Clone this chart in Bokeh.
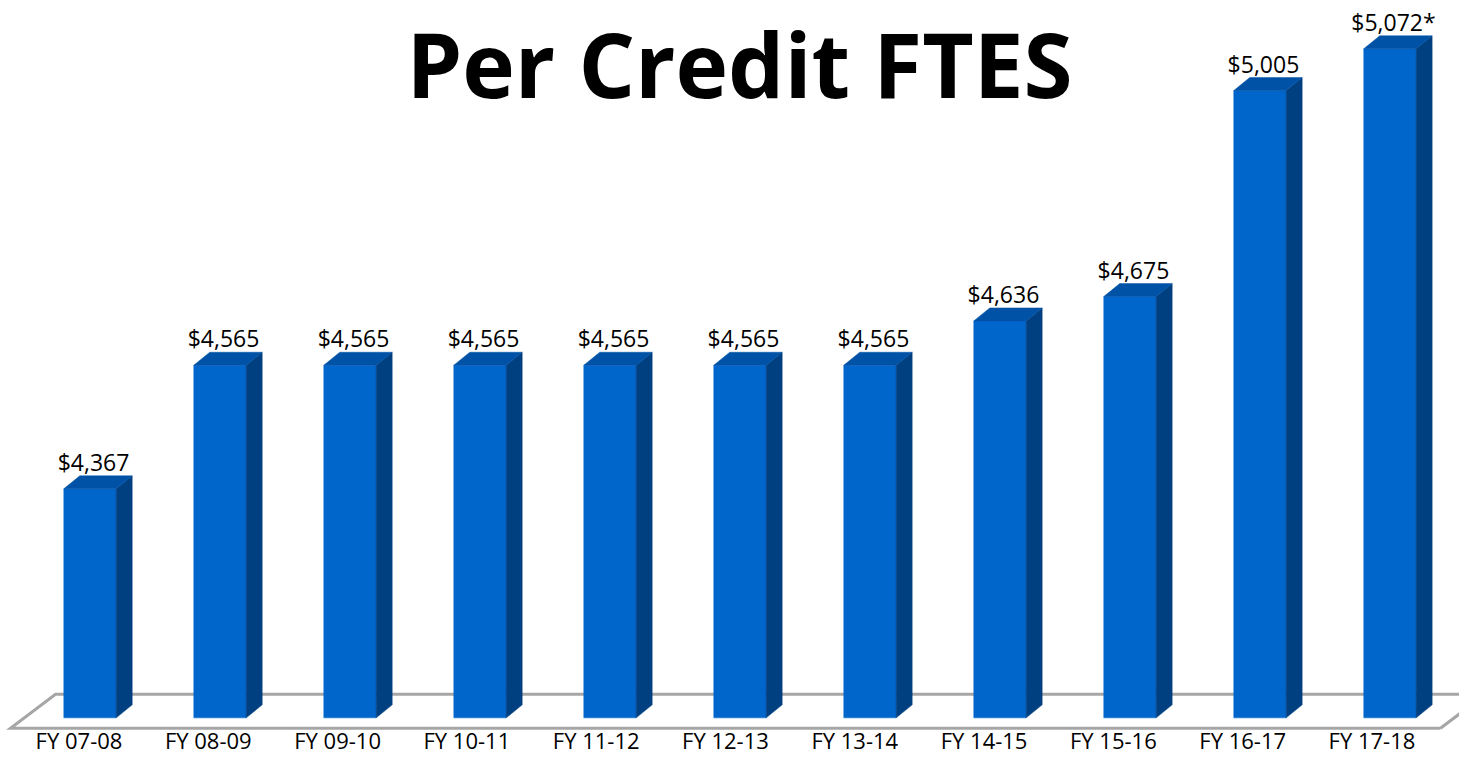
import numpy as np
from bokeh.plotting import figure
from bokeh.models import Range1d, Label, ColumnDataSource
from bokeh.core.properties import value
from bokeh.embed import file_html
from bokeh.resources import INLINE

# ---- data ----
categories = ["FY 07-08", "FY 08-09", "FY 09-10", "FY 10-11", "FY 11-12", "FY 12-13",
              "FY 13-14", "FY 14-15", "FY 15-16", "FY 16-17", "FY 17-18"]
amounts = [4367, 4565, 4565, 4565, 4565, 4565, 4565, 4636, 4675, 5005, 5072]
amount_labels = ["$4,367", "$4,565", "$4,565", "$4,565", "$4,565", "$4,565",
                 "$4,565", "$4,636", "$4,675", "$5,005", "$5,072*"]
title_text = "Per Credit FTES"
axis_min = 4000

# ---- layout ----
W, H = 1459, 757
x0, x1 = -0.6885, 10.535
y0, y1 = 3936.5, 5149.4
kx = W / (x1 - x0)          # px per category unit
ky = H / (y1 - y0)          # px per value unit

FONT = "Open Sans"
FRONT, TOP, SIDE = "#0066CC", "#0052A6", "#003F80"
FLOOR = "#A6A6A6"

p = figure(width=W, height=H, x_range=Range1d(x0, x1), y_range=Range1d(y0, y1),
           x_axis_type=None, y_axis_type=None, toolbar_location=None,
           output_backend="svg", min_border=0, outline_line_color=None,
           background_fill_color="white", border_fill_color="white")
p.grid.visible = False

n = len(categories)
xs = np.arange(n, dtype=float)
vals = np.array(amounts, dtype=float)

hw = 26.2 / kx        # half front width
ddx = 16 / kx         # depth offset x
ddy = 13 / ky         # depth offset y

# ---- floor (outline only) ----
fdx, fdy = 45 / kx, 34 / ky
front_y = axis_min - 10.4 / ky
fl = xs[0] - 79.5 / kx
fr = xs[-1] + 50.5 / kx
p.line([fr, fl, fl + fdx, fr + fdx, fr], [front_y, front_y, front_y + fdy, front_y + fdy, front_y],
       line_color=FLOOR, line_width=3, line_join="miter")

# ---- bars ----
p.quad(left=xs - hw, right=xs + hw, bottom=axis_min, top=vals,
       fill_color=FRONT, line_color=FRONT, line_width=0.5)

side_xs = [[x + hw, x + hw + ddx, x + hw + ddx, x + hw] for x in xs]
side_ys = [[axis_min, axis_min + ddy, v + ddy, v] for v in vals]
p.patches(side_xs, side_ys, fill_color=SIDE, line_color=SIDE, line_width=0.5)

top_xs = [[x - hw, x + hw, x + hw + ddx, x - hw + ddx] for x in xs]
top_ys = [[v, v, v + ddy, v + ddy] for v in vals]
p.patches(top_xs, top_ys, fill_color=TOP, line_color=TOP, line_width=0.5)

# ---- value labels ----
lab_src = ColumnDataSource(dict(x=xs + 3.5 / kx, y=vals + 27.0 / ky, t=amount_labels))
p.text(x="x", y="y", text="t", source=lab_src, text_align="center",
       text_baseline="alphabetic", text_font=value(FONT), text_font_size="23px",
       text_color="black")

# ---- category labels ----
cat_src = ColumnDataSource(dict(x=xs + (-11 - 0.7 * xs) / kx,
                                y=np.full(n, axis_min - 22.0 / ky), t=categories))
p.text(x="x", y="y", text="t", source=cat_src, text_align="center",
       text_baseline="alphabetic", text_font=value(FONT), text_font_size="22px",
       text_color="black")

# ---- title ----
p.add_layout(Label(x=739, y=H - 2, x_units="screen", y_units="screen", text=title_text,
                   text_align="center", text_baseline="top", text_font=FONT,
                   text_font_style="bold", text_font_size="89px", text_color="black"))

open("out.html", "w").write(file_html(p, INLINE))
